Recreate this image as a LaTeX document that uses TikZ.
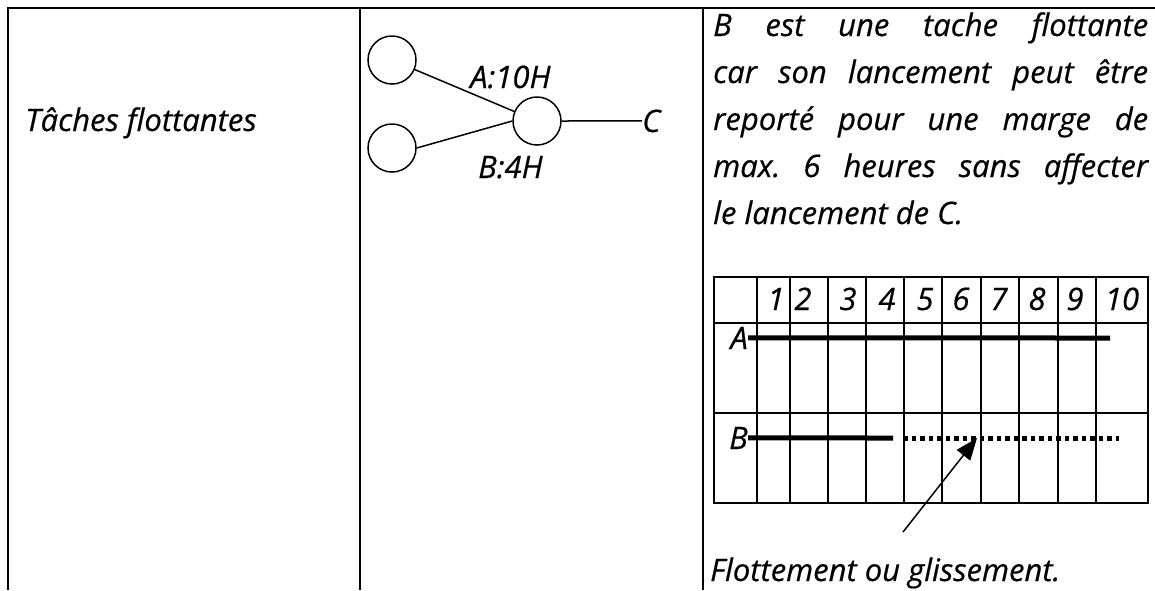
\documentclass[tikz,border=0pt]{standalone}
\usepackage{fontspec}
\setmainfont{Open Sans}[ItalicFeatures={FakeBold=0.5}]
\usetikzlibrary{arrows.meta}
\frenchspacing
\begin{document}
\begin{tikzpicture}[x=1pt,y=-1pt,
  frame/.style={line width=2pt},
  gridline/.style={line width=1.8pt},
  txt/.style={font=\fontsize{31}{47}\selectfont\itshape, inner sep=0pt, anchor=base west},
  num/.style={txt, anchor=base},
  ev/.style={circle, draw, line width=1.5pt, minimum size=48pt, inner sep=0pt},
  link/.style={line width=1.5pt},
  bar/.style={line width=5pt},
  floatbar/.style={line width=5pt, dash pattern=on 4.5pt off 4pt},
  pointer/.style={line width=1.5pt, -{Triangle[length=22pt,width=17pt]}}]
\useasboundingbox (0,0) rectangle (1155,590);
% table frame
\draw[frame] (1155,7.5) -- (7.5,7.5) -- (7.5,590);
\draw[frame] (360,7.5) -- (360,590);
\draw[frame] (703,7.5) -- (703,590);
% left cell
\node[txt] (lbl) at (25,131) {Tâches flottantes};
% network
\node[ev] (e1) at (392,60) {};
\node[ev] (e2) at (392,148) {};
\node[ev] (e3) at (537,121) {};
\node[txt] (la) at (470,88) {A:10H};
\node[txt] (lb) at (478,178) {B:4H};
\node[txt] (lc) at (642,132) {C};
\draw[link] (e1) -- (e3);
\draw[link] (e2.east) -- (e3.west);
\draw[link] (e3.east) -- (lc.west);
% right cell text
\node[txt] (t1) at (713,36)  {\makebox[435pt][s]{B est une tache flottante}};
\node[txt] (t2) at (713,83)  {\makebox[435pt][s]{car son lancement peut être}};
\node[txt] (t3) at (713,130) {\makebox[435pt][s]{reporté pour une marge de}};
\node[txt] (t4) at (713,177) {\makebox[435pt][s]{max. 6 heures sans affecter}};
\node[txt] (t5) at (713,224) {le lancement de C.};
% gantt grid
\draw[gridline] (714,277) rectangle (1148,503);
\draw[gridline] (714,323) -- (1148,323);
\draw[gridline] (714,413) -- (1148,413);
\foreach \x in {757,790,828,866,904,942,981,1019,1058,1096}
  \draw[gridline] (\x,277) -- (\x,503);
\foreach \x/\n in {776/1,803/2,848/3,887/4,925/5,961/6,999/7,1037/8,1075/9,1122/10}
  \node[num] (h\n) at (\x,310) {\n};
\node[txt, anchor=base east] (ga) at (748,349) {A};
\node[txt, anchor=base east] (gb) at (748,449) {B};
\coordinate (aend) at (1110,338);
\coordinate (bend) at (893,438);
\coordinate (fstart) at (903,438);
\coordinate (fend) at (1119,438);
\draw[bar] (ga.east) -- (aend);
\draw[bar] (gb.east) -- (bend);
\draw[floatbar] (fstart) -- (fend);
\coordinate (tail) at (903,532);
\coordinate (tip) at (977,438);
\draw[pointer] (tail) -- (tip);
\node[txt] (note) at (710,581) {Flottement ou glissement.};
\end{tikzpicture}
\end{document}
